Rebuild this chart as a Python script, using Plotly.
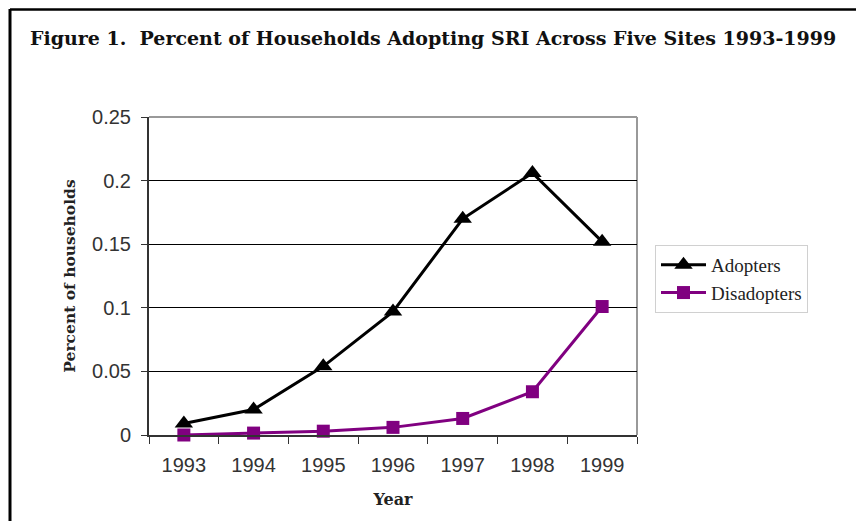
import plotly.graph_objects as go

years = ["1993", "1994", "1995", "1996", "1997", "1998", "1999"]
adopters = [0.009, 0.020, 0.054, 0.097, 0.170, 0.206, 0.152]
disadopters = [0.0, 0.0015, 0.003, 0.006, 0.013, 0.034, 0.101]
y_ticks = [0, 0.05, 0.1, 0.15, 0.2, 0.25]
y_tick_labels = ["0", "0.05", "0.1", "0.15", "0.2", "0.25"]

SW, SH = 864, 521       # screen size
OFF = 8                 # page body margin
W, H = SW - OFF, SH - OFF
L, R, T, B = 149, 637, 117, 435   # plot area in screen px

def px(x):
    return (x - L) / (R - L)

def py(y):
    return (B - y) / (B - T)

fig = go.Figure()
fig.add_trace(go.Scatter(
    x=years, y=adopters, name="Adopters", mode="lines+markers",
    line=dict(color="black", width=3),
    marker=dict(symbol="triangle-up", size=16, color="black"),
    cliponaxis=False,
))
fig.add_trace(go.Scatter(
    x=years, y=disadopters, name="Disadopters", mode="lines+markers",
    line=dict(color="#800080", width=3),
    marker=dict(symbol="square", size=13, color="#800080"),
    cliponaxis=False,
))

serif = "Liberation Serif, Times New Roman, serif"
wserif = "DejaVu Serif, serif"
sans = "Liberation Sans, Arial, sans-serif"

fig.update_layout(
    width=W, height=H,
    margin=dict(l=L - OFF, r=SW - R, t=T - OFF, b=SH - B, pad=0),
    paper_bgcolor="white", plot_bgcolor="white",
    showlegend=True,
    legend=dict(
        x=px(655), y=py(245), xanchor="left", yanchor="top",
        bordercolor="#d0d0d0", borderwidth=1,
        font=dict(family=serif, size=19, color="#222"),
        itemwidth=45, tracegroupgap=0,
    ),
    xaxis=dict(
        type="category", showgrid=False, zeroline=False,
        showline=True, linecolor="#333", linewidth=2,
        ticks="outside", tickson="boundaries", ticklen=7, tickcolor="#333",
        tickfont=dict(family=sans, size=20, color="#333"),
        ticklabelstandoff=11,
        title=dict(text="<b>Year</b>", font=dict(family=wserif, size=16, color="#222"), standoff=19),
        range=[-0.5, 6.5],
    ),
    yaxis=dict(
        range=[0, 0.25], tickvals=y_ticks, ticktext=y_tick_labels,
        showgrid=True, gridcolor="black", gridwidth=1, zeroline=False,
        showline=True, linecolor="#333", linewidth=2,
        ticks="outside", ticklen=6, tickcolor="#333",
        tickfont=dict(family=sans, size=20, color="#333"),
        ticklabelstandoff=6,
        title=dict(text="<b>Percent of households</b>", font=dict(family=wserif, size=15.5, color="#222"), standoff=13),
    ),
    title=dict(
        text="<b>Figure 1.  Percent of Households Adopting SRI Across Five Sites 1993-1999</b>",
        font=dict(family=wserif, size=19, color="#111"),
        x=(30 - OFF) / W, xanchor="left", xref="container",
        y=1 - (38 - OFF) / H, yanchor="middle",
    ),
    shapes=[
        dict(type="line", xref="paper", yref="paper", x0=0, x1=1, y0=1, y1=1,
             line=dict(color="#999", width=2), layer="below"),
        dict(type="line", xref="paper", yref="paper", x0=1, x1=1, y0=0, y1=1,
             line=dict(color="#999", width=2), layer="below"),
        dict(type="line", xref="paper", yref="paper", x0=px(10), x1=px(870), y0=py(9.5), y1=py(9.5),
             line=dict(color="black", width=2.5)),
        dict(type="line", xref="paper", yref="paper", x0=px(10), x1=px(10), y0=py(9), y1=py(530),
             line=dict(color="black", width=3)),
    ],
)

fig.write_html("out.html")
